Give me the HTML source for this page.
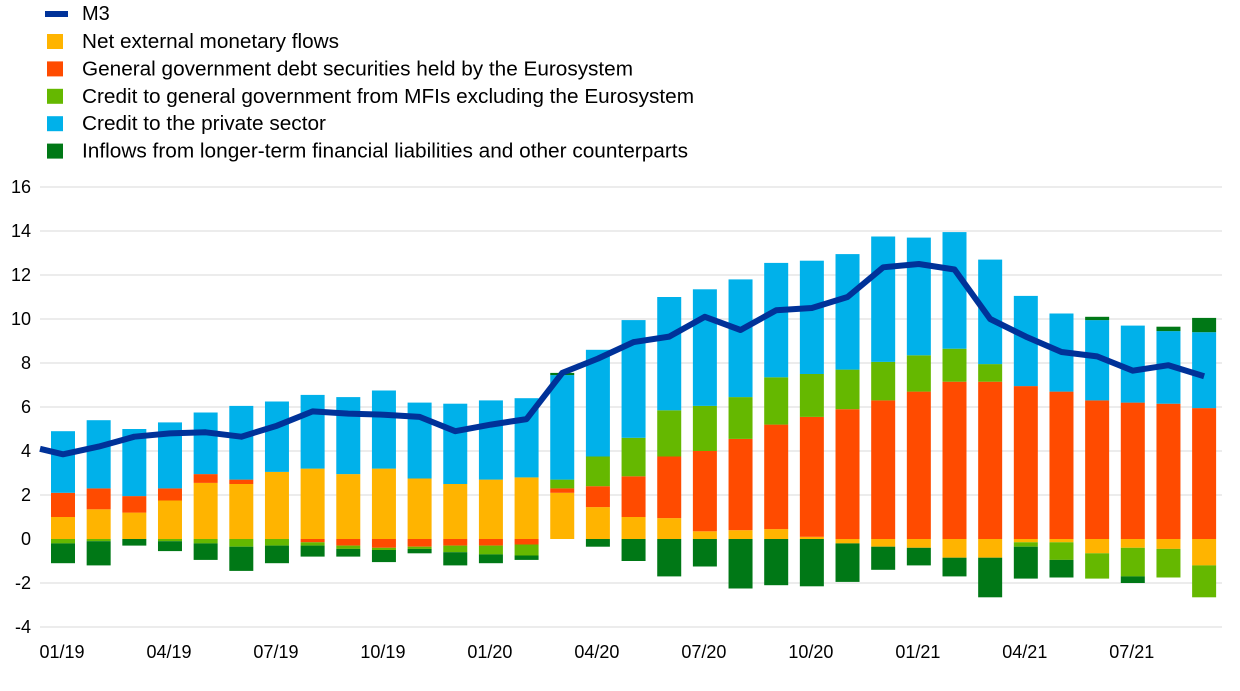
<!DOCTYPE html>
<html><head><meta charset="utf-8"><style>
body{margin:0;background:#fff;font-family:"Liberation Sans",Arial,sans-serif;}
svg text{font-family:"Liberation Sans",Arial,sans-serif;}
</style></head><body>
<svg id="chart" width="1240" height="686" xmlns="http://www.w3.org/2000/svg">
<g id="legend"></g>
<g id="grid"></g>
<g id="bars"></g>
<g id="line"></g>
<g id="axes"></g>
</svg>
<script>
const months = ["01/19","02/19","03/19","04/19","05/19","06/19","07/19","08/19","09/19","10/19","11/19","12/19","01/20","02/20","03/20","04/20","05/20","06/20","07/20","08/20","09/20","10/20","11/20","12/20","01/21","02/21","03/21","04/21","05/21","06/21","07/21","08/21","09/21"];
const netExternal = [1.0,1.35,1.2,1.75,2.55,2.5,3.05,3.2,2.95,3.2,2.75,2.5,2.7,2.8,2.1,1.45,1.0,0.95,0.35,0.4,0.45,0.1,-0.2,-0.35,-0.4,-0.85,-0.85,-0.15,-0.15,-0.65,-0.4,-0.45,-1.2];
const govDebtEurosystem = [1.1,0.95,0.75,0.55,0.4,0.2,0,-0.15,-0.3,-0.4,-0.35,-0.3,-0.3,-0.25,0.2,0.95,1.85,2.8,3.65,4.15,4.75,5.45,5.9,6.3,6.7,7.15,7.15,6.95,6.7,6.3,6.2,6.15,5.95];
const creditGovMFI = [-0.2,-0.1,0,-0.1,-0.2,-0.35,-0.3,-0.15,-0.15,-0.1,-0.1,-0.3,-0.4,-0.5,0.4,1.35,1.75,2.1,2.05,1.9,2.15,1.95,1.8,1.75,1.65,1.5,0.8,-0.2,-0.8,-1.15,-1.3,-1.3,-1.45];
const creditPrivate = [2.8,3.1,3.05,3.0,2.8,3.35,3.2,3.35,3.5,3.55,3.45,3.65,3.6,3.6,4.75,4.85,5.35,5.15,5.3,5.35,5.2,5.15,5.25,5.7,5.35,5.3,4.75,4.1,3.55,3.65,3.5,3.3,3.45];
const longerTerm = [-0.9,-1.1,-0.3,-0.45,-0.75,-1.1,-0.8,-0.5,-0.35,-0.55,-0.2,-0.6,-0.4,-0.2,0.1,-0.35,-1.0,-1.7,-1.25,-2.25,-2.1,-2.15,-1.75,-1.05,-0.8,-0.85,-1.8,-1.45,-0.8,0.15,-0.3,0.2,0.65];
const m3 = [3.85,4.2,4.65,4.8,4.85,4.65,5.15,5.8,5.7,5.65,5.55,4.9,5.2,5.45,7.55,8.2,8.95,9.2,10.1,9.5,10.4,10.5,11.0,12.35,12.5,12.25,10.0,9.2,8.5,8.3,7.65,7.9,7.4];
const m3Lead = 4.1;
const yTicks = [16,14,12,10,8,6,4,2,0,-2,-4];
const seriesNames = ["Net external monetary flows","General government debt securities held by the Eurosystem","Credit to general government from MFIs excluding the Eurosystem","Credit to the private sector","Inflows from longer-term financial liabilities and other counterparts"];
const legendWidths = [257,551,612,244,606];
const colors = ["#FFB400","#FF4B00","#65B800","#00B1EA","#007816"];
const NS="http://www.w3.org/2000/svg";
const X0=40,X1=1222,Y0=187,Y1=627,YMIN=-4,YMAX=16;
const y=v=>Y1-(v-YMIN)/(YMAX-YMIN)*(Y1-Y0);
const step=35.66;
const x=i=>63+step*i;
function mk(tag,attrs,parent){const e=document.createElementNS(NS,tag);for(const k in attrs)e.setAttribute(k,attrs[k]);parent.appendChild(e);return e;}
const G=id=>document.getElementById(id);
yTicks.forEach(t=>{
  const l=mk('line',{x1:X0,x2:X1,y1:y(t),y2:y(t),stroke:t===0?'#fff':'#d9d9d9','stroke-width':1},G('grid'));
  
  
  const tx=mk('text',{x:31,y:y(t)+6,'text-anchor':'end','font-size':18,fill:'#000'},G('axes'));
  tx.textContent=t;
  
  
});
const series=[netExternal,govDebtEurosystem,creditGovMFI,creditPrivate,longerTerm];
const bw=24;
months.forEach((m,i)=>{
  let pos=0,neg=0;
  series.forEach((s,k)=>{
    const v=s[i]; if(!v) return;
    let a,b;
    if(v>0){a=pos;b=pos+v;pos=b;}else{a=neg;b=neg+v;neg=b;}
    const r=mk('rect',{x:x(i)-bw/2,y:y(Math.max(a,b)),width:bw,height:Math.abs(y(a)-y(b)),fill:colors[k]},G('bars'));
    
    
  });
  if(i%3===0){
    const tx=mk('text',{x:x(i)-1,y:658,'text-anchor':'middle','font-size':18,fill:'#000'},G('axes'));
    tx.textContent=m;
    
    
  }
});
const pts=[X0+','+y(m3Lead)].concat(m3.map((v,i)=>x(i)+','+y(v))).join(' ');
const pl=mk('polyline',{points:pts,fill:'none',stroke:'#003299','stroke-width':6,'stroke-linejoin':'round'},G('line'));


const lg=G('legend');
const l0=mk('line',{x1:45,x2:68,y1:14,y2:14,stroke:'#003299','stroke-width':6},lg);


const t0=mk('text',{x:82,y:20,'font-size':20},lg);t0.textContent='M3';


seriesNames.forEach((n,k)=>{
  const cy=41+k*27.4;
  const r=mk('rect',{x:47,y:cy-7,width:16,height:15,fill:colors[k]},lg);
  
  
  const t=mk('text',{x:82,y:cy+7,'font-size':20,textLength:legendWidths[k],lengthAdjust:'spacingAndGlyphs'},lg);t.textContent=n;
  
  
});
</script>
</body></html>
